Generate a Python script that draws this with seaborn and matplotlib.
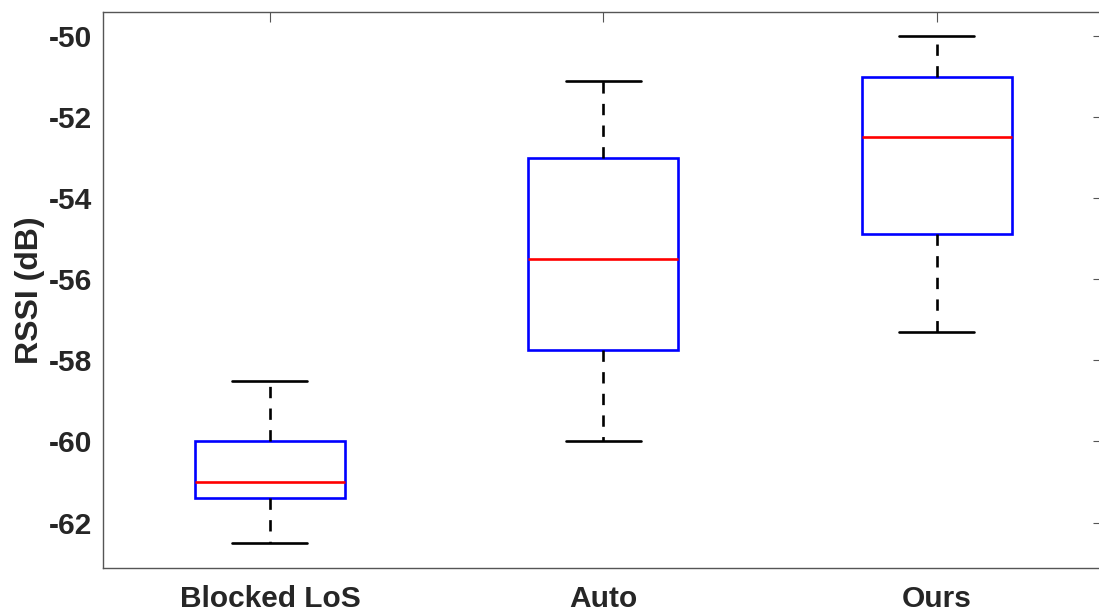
import numpy as np
import pandas as pd
import seaborn as sns
import matplotlib
matplotlib.use("Agg")
import matplotlib.pyplot as plt

# five-number summaries: whisker low, q1, median, q3, whisker high
methods = ["Blocked LoS", "Auto", "Ours"]
blocked_los = [-62.5, -61.4, -61.0, -60.0, -58.5]
auto = [-60.0, -57.75, -55.5, -53.0, -51.1]
ours = [-57.3, -54.88, -52.5, -51.0, -50.0]
y_ticks = [-62, -60, -58, -56, -54, -52, -50]

df = pd.DataFrame({
    "method": np.repeat(methods, 5),
    "rssi": blocked_los + auto + ours,
})

sns.set_style("white")
plt.rcParams["font.family"] = ["Liberation Sans", "DejaVu Sans"]
plt.rcParams["font.weight"] = "bold"

fig = plt.figure(figsize=(10.99, 6.12), dpi=100)
ax = fig.add_axes([103.3 / 1099, 44 / 612, 1000 / 1099, 556.3 / 612])

lw = 1.9
sns.boxplot(
    data=df, x="method", y="rssi", order=methods, ax=ax,
    width=0.45, whis=(0, 100), color="white", linecolor="blue", linewidth=lw,
    boxprops=dict(facecolor="white", edgecolor="blue", linewidth=lw),
    medianprops=dict(color="red", linewidth=lw),
    whiskerprops=dict(color="black", linestyle=(0, (4.3, 3.9)), linewidth=lw),
    capprops=dict(color="black", linewidth=lw),
)

ax.set_xlim(-0.5, 2.5)
ax.set_ylim(-63.12, -49.4)
ax.set_yticks(y_ticks)
ax.set_yticklabels([str(t) for t in y_ticks])
ax.set_xlabel("")
ax.set_ylabel("RSSI (dB)", fontsize=23, fontweight="bold", color="#262626", labelpad=3)

ax.tick_params(axis="both", direction="in", length=7, width=0.8, color="#555555",
               labelsize=21.5, labelcolor="#262626", top=True, right=True)
ax.tick_params(axis="y", pad=8)
ax.tick_params(axis="x", pad=12)
for lab in ax.get_xticklabels() + ax.get_yticklabels():
    lab.set_fontweight("bold")
for sp in ax.spines.values():
    sp.set_color("#555555")
    sp.set_linewidth(1.0)

fig.savefig("out.png", dpi=100)
